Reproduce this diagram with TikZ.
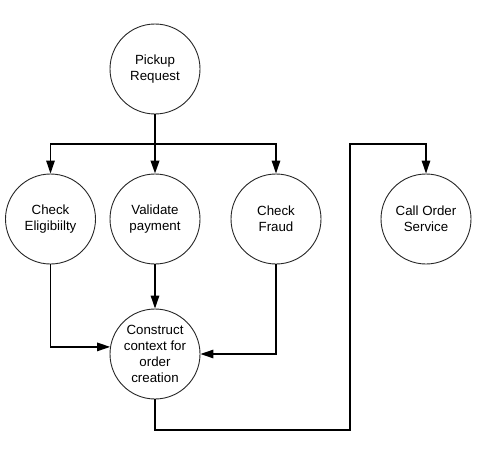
\documentclass[tikz,border=0pt]{standalone}
\usepackage{fontspec}
\setmainfont{Liberation Sans}
\usetikzlibrary{arrows.meta}
\begin{document}
\begin{tikzpicture}[x=1pt,y=-1pt,
  proc/.style={circle,draw=black!85,line width=0.9pt,minimum size=90pt,inner sep=0pt,align=center,
    font=\fontsize{13.3pt}{16pt}\selectfont},
  conn/.style={line width=1.3pt,-{Triangle[length=13pt,width=8.5pt]}},
  stem/.style={line width=2.2pt,-{Triangle[length=13pt,width=8.5pt]}},
  plainline/.style={line width=1.3pt}]
\useasboundingbox[fill=white] (0,0) rectangle (492,452);
\node[proc] (p) at (155,69) {Pickup\\Request};
\node[proc] (e) at (50.5,219) {Check\\Eligibiilty};
\node[proc] (v) at (155,219) {Validate\\payment};
\node[proc] (f) at (276,219) {Check\\Fraud};
\node[proc] (o) at (426,219) {Call Order\\Service};
\node[proc] (c) at (155,354) {Construct\\context for\\order\\creation};
\coordinate (br) at (155,144);
\coordinate (b1) at (350,430);
\coordinate (b2) at (350,144);
\draw[conn] (br) -| (e.north);
\draw[conn] (br) -| (f.north);
\draw[stem] (p.south) -- (v.north);
\draw[conn] (e.south) |- (c.171);
\draw[conn] (v.south) -- (c.north);
\draw[conn] (f.south) |- (c.east);
\draw[conn] (c.south) |- (b1) -- (b2) -| (o.north);
\end{tikzpicture}
\end{document}
